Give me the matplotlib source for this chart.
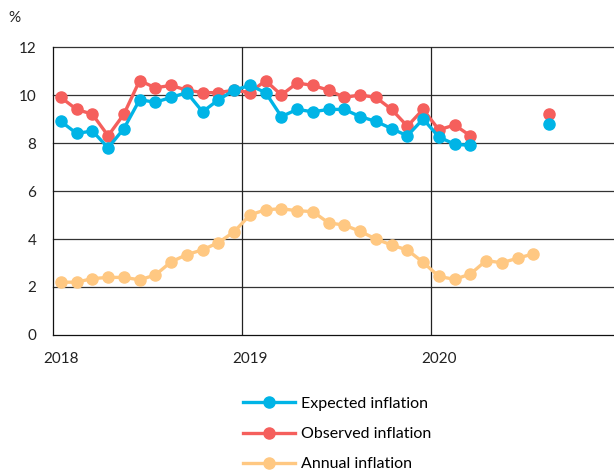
import matplotlib
matplotlib.use("Agg")
import matplotlib.pyplot as plt
import numpy as np

plt.rcParams['font.family'] = ['Lato', 'DejaVu Sans']

# month index 0 = Jan 2018
months_main = list(range(27))
expected = [8.9, 8.4, 8.5, 7.8, 8.6, 9.8, 9.7, 9.9, 10.1, 9.3, 9.8, 10.2,
            10.4, 10.1, 9.1, 9.4, 9.3, 9.4, 9.4, 9.1, 8.9, 8.6, 8.3, 9.0,
            8.25, 7.95, 7.9]
observed = [9.9, 9.4, 9.2, 8.3, 9.2, 10.6, 10.3, 10.4, 10.2, 10.1, 10.1, 10.2,
            10.1, 10.6, 10.0, 10.5, 10.4, 10.2, 9.9, 10.0, 9.9, 9.4, 8.7, 9.4,
            8.55, 8.75, 8.3]
extra_month = 31
expected_extra = 8.8
observed_extra = 9.2

months_annual = list(range(31))
annual = [2.2, 2.2, 2.35, 2.4, 2.4, 2.3, 2.5, 3.05, 3.35, 3.55, 3.85, 4.3,
          5.0, 5.22, 5.26, 5.18, 5.14, 4.67, 4.58, 4.32, 4.0, 3.75, 3.54, 3.03,
          2.44, 2.32, 2.54, 3.1, 3.01, 3.2, 3.38]

year_labels = ['2018', '2019', '2020']
yticks = [0, 2, 4, 6, 8, 10, 12]

blue = '#00B4E6'
red = '#F55F5C'
orange = '#FFC882'

fig = plt.figure(figsize=(6.14, 4.76), dpi=100)
ax = fig.add_axes([53/614, 141/476, 1 - 53/614, 288/476])

x_main = np.array(months_main) + 0.5
x_ann = np.array(months_annual) + 0.5
lw = 2.4
ms = 8
l1, = ax.plot(x_main, expected, color=blue, lw=lw, marker='o', ms=ms, label='Expected inflation', zorder=4)
ax.plot([extra_month + 0.5], [expected_extra], color=blue, marker='o', ms=ms, ls='none', zorder=4)
l2, = ax.plot(x_main, observed, color=red, lw=lw, marker='o', ms=ms, label='Observed inflation', zorder=3)
ax.plot([extra_month + 0.5], [observed_extra], color=red, marker='o', ms=ms, ls='none', zorder=3)
l3, = ax.plot(x_ann, annual, color=orange, lw=lw, marker='o', ms=ms, label='Annual inflation', zorder=3)

ax.set_xlim(0, 35.62)
ax.set_ylim(0, 12)
ax.set_yticks(yticks)
ax.set_yticklabels([str(v) for v in yticks])
ax.set_xticks([0.5, 12.5, 24.5])
ax.set_xticklabels(year_labels)
ax.tick_params(axis='both', length=0, labelsize=11, colors='#222222')
ax.tick_params(axis='y', pad=12)
ax.tick_params(axis='x', pad=12)

for v in yticks[1:]:
    ax.axhline(v, color='#333333', lw=0.9, zorder=1, clip_on=False)
for v in [12, 24]:
    ax.axvline(v, color='#222222', lw=0.9, zorder=1)

for s in ['top', 'right']:
    ax.spines[s].set_visible(False)
ax.spines['left'].set_color('#111111')
ax.spines['bottom'].set_color('#111111')
ax.spines['left'].set_linewidth(0.9)
ax.spines['bottom'].set_linewidth(0.9)

fig.text(14/614, 1 - 18/476, '%', fontsize=11, ha='center', va='center', color='#222222')

fig.legend(handles=[l1, l2, l3], loc='center', bbox_to_anchor=(337/614, 1 - 434/476),
           frameon=False, fontsize=11.5, handlelength=3.3, labelspacing=1.0,
           handletextpad=0.35)

fig.savefig('out.png', dpi=100)
